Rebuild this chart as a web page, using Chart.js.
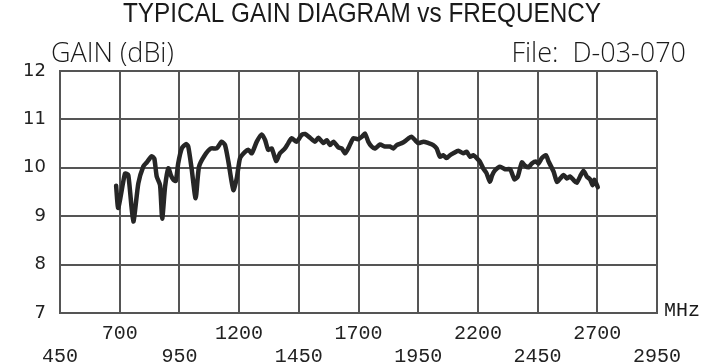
<!DOCTYPE html>
<html>
<head>
<meta charset="utf-8">
<script src="https://cdn.jsdelivr.net/npm/chart.js@4"></script>
<style>
  html, body { margin: 0; padding: 0; background: #fff; }
  #wrap { width: 709px; height: 364px; }
</style>
</head>
<body>
<div id="wrap"><canvas id="grafico" width="709" height="364"></canvas></div>
<script>
const frecuencias = [685, 694, 722, 736, 757, 778, 799, 813, 834, 845, 855, 869, 878, 890, 904, 914, 925, 935, 945, 960,
  978, 987, 1001, 1018, 1032, 1055, 1082, 1106, 1127, 1141, 1155, 1176, 1190, 1204, 1225, 1239, 1253, 1274, 1295, 1309,
  1322, 1337, 1355, 1371, 1392, 1406, 1420, 1441, 1462, 1476, 1497, 1518, 1532, 1553, 1567, 1581, 1595, 1616, 1630, 1644,
  1657, 1678, 1697, 1714, 1727, 1741, 1755, 1769, 1790, 1811, 1832, 1846, 1860, 1881, 1895, 1909, 1923, 1937, 1951, 1972,
  1993, 2013, 2027, 2041, 2055, 2069, 2083, 2097, 2118, 2139, 2153, 2167, 2181, 2195, 2208, 2222, 2236, 2250, 2260, 2272,
  2293, 2314, 2335, 2353, 2367, 2384, 2398, 2412, 2426, 2443, 2454, 2468, 2485, 2496, 2517, 2531, 2545, 2559, 2573, 2586,
  2600, 2614, 2628, 2642, 2656, 2670, 2680, 2688, 2702];
const ganancia = [9.63, 9.17, 9.88, 9.85, 8.89, 9.68, 10.03, 10.11, 10.24, 10.19, 9.82, 9.64, 8.95, 9.61, 9.99, 9.85, 9.75, 9.73, 10.09, 10.40,
  10.49, 10.44, 9.99, 9.37, 10.02, 10.25, 10.40, 10.40, 10.54, 10.47, 10.13, 9.54, 9.78, 10.20, 10.33, 10.37, 10.30, 10.54, 10.69, 10.57,
  10.37, 10.40, 10.14, 10.30, 10.40, 10.51, 10.61, 10.54, 10.68, 10.70, 10.62, 10.54, 10.62, 10.51, 10.57, 10.47, 10.54, 10.42, 10.40, 10.30,
  10.40, 10.61, 10.59, 10.64, 10.71, 10.54, 10.44, 10.40, 10.48, 10.44, 10.44, 10.40, 10.47, 10.51, 10.55, 10.61, 10.64, 10.57, 10.51, 10.54,
  10.51, 10.47, 10.40, 10.23, 10.26, 10.20, 10.26, 10.30, 10.35, 10.30, 10.33, 10.23, 10.26, 10.20, 10.13, 9.99, 9.89, 9.71, 9.85, 9.95,
  10.02, 9.97, 9.97, 9.76, 9.82, 10.11, 10.04, 10.01, 10.09, 10.13, 10.09, 10.20, 10.26, 10.13, 9.92, 9.71, 9.78, 9.85, 9.78, 9.82,
  9.75, 9.69, 9.82, 9.94, 9.82, 9.76, 9.64, 9.75, 9.60];

// Marcas de los ejes
const ticksX = [450, 700, 950, 1200, 1450, 1700, 1950, 2200, 2450, 2700, 2950];
const ticksY = [7, 8, 9, 10, 11, 12];

const titulo = "TYPICAL GAIN DIAGRAM vs FREQUENCY";
const etiquetaY = "GAIN (dBi)";
const archivo = "File:  D-03-070";
const unidadX = "MHz";

const puntos = frecuencias.map((f, i) => ({ x: f, y: ganancia[i] }));

// Textos sueltos alrededor del grafico
const textos = {
  id: "textos",
  afterDraw(chart) {
    const ctx = chart.ctx;
    ctx.save();
    ctx.fillStyle = "#1a1a1a";
    ctx.textBaseline = "alphabetic";
    // titulo estrechado a mano, la fuente original es condensada
    ctx.save();
    ctx.translate(362, 22);
    ctx.scale(0.9, 1);
    ctx.font = "27px 'Liberation Sans', sans-serif";
    ctx.textAlign = "center";
    ctx.fillText(titulo, 0, 0);
    ctx.restore();
    ctx.font = "300 27px 'Open Sans', sans-serif";
    ctx.textAlign = "left";
    ctx.fillText(etiquetaY, 51, 62);
    ctx.textAlign = "right";
    ctx.fillText(archivo, 686, 62);
    ctx.font = "20px 'Liberation Mono', monospace";
    ctx.textAlign = "left";
    ctx.textBaseline = "middle";
    ctx.fillText(unidadX, 664, 311);
    ctx.restore();
  }
};

new Chart(document.getElementById("grafico"), {
  type: "line",
  data: {
    datasets: [{
      data: puntos,
      borderColor: "#262626",
      borderWidth: 4.5,
      pointRadius: 0,
      tension: 0.2,
      borderJoinStyle: "round",
      borderCapStyle: "round",
      fill: false
    }]
  },
  options: {
    responsive: false,
    animation: false,
    layout: { padding: { top: 71, right: 52, left: 0, bottom: 0 } },
    plugins: { legend: { display: false }, tooltip: { enabled: false } },
    scales: {
      x: {
        type: "linear",
        min: 450,
        max: 2950,
        afterBuildTicks(scale) { scale.ticks = ticksX.map(v => ({ value: v })); },
        afterFit(scale) { scale.height = 51; },
        grid: { color: "#555", lineWidth: 2, drawTicks: false },
        border: { color: "#555", width: 2 },
        ticks: {
          padding: 9,
          color: "#222",
          font: { family: "'Liberation Mono', monospace", size: 20, lineHeight: 1.15 },
          maxRotation: 0,
          autoSkip: false,
          callback: (v, i) => (i % 2 === 0 ? ["", String(v)] : String(v))
        }
      },
      y: {
        min: 7,
        max: 12,
        afterBuildTicks(scale) { scale.ticks = ticksY.map(v => ({ value: v })); },
        afterFit(scale) { scale.width = 60; },
        grid: { color: "#555", lineWidth: 2, drawTicks: false },
        border: { color: "#555", width: 2 },
        ticks: {
          padding: 14,
          color: "#222",
          font: { family: "'DejaVu Sans', sans-serif", size: 18 }
        }
      }
    }
  },
  plugins: [textos]
});
</script>
</body>
</html>
